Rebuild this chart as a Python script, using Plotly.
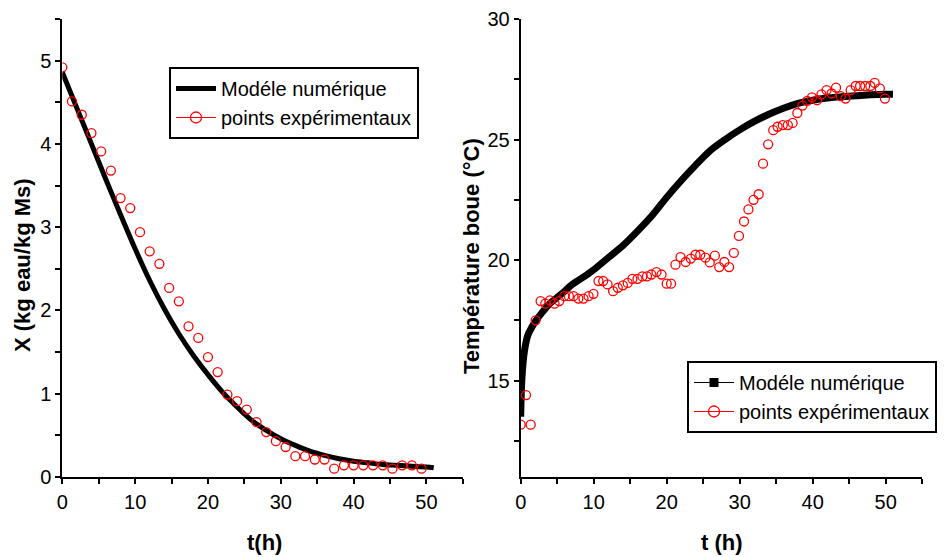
import plotly.graph_objects as go

# ---------------- data ----------------
# Left panel: moisture content X (kg eau/kg Ms) vs t (h)
model_left_t = [0, 2, 4, 6, 8, 10, 12, 14, 16, 18, 20, 22, 24, 26, 28, 30, 32, 34, 36, 38, 40, 42, 44, 46, 48, 50, 51]
model_left_x = [4.86, 4.43, 4.00, 3.57, 3.15, 2.74, 2.36, 2.02, 1.72, 1.46, 1.23, 1.02, 0.84, 0.68, 0.56, 0.46,
                0.38, 0.31, 0.26, 0.22, 0.19, 0.17, 0.15, 0.14, 0.13, 0.12, 0.11]

exp_left_t = [0, 1.33, 2.67, 4.0, 5.33, 6.67, 8.0, 9.33, 10.67, 12.0, 13.33, 14.67, 16.0, 17.33, 18.67, 20.0,
              21.33, 22.67, 24.0, 25.33, 26.67, 28.0, 29.33, 30.67, 32.0, 33.33, 34.67, 36.0, 37.33, 38.67,
              40.0, 41.33, 42.67, 44.0, 45.33, 46.67, 48.0, 49.33]
exp_left_x = [4.92, 4.51, 4.35, 4.13, 3.91, 3.68, 3.35, 3.23, 2.94, 2.71, 2.56, 2.27, 2.11, 1.81, 1.67, 1.44,
              1.26, 0.99, 0.91, 0.81, 0.66, 0.54, 0.43, 0.36, 0.25, 0.25, 0.21, 0.21, 0.10, 0.14,
              0.14, 0.14, 0.14, 0.14, 0.10, 0.14, 0.14, 0.10]

# Right panel: sludge temperature (°C) vs t (h)
model_right_t = [0, 0.15, 0.5, 1, 1.5, 2, 3, 4, 5, 6, 7, 8, 9, 10, 12, 14, 16, 18, 20, 22, 24, 26, 28, 30,
                 32, 34, 36, 38, 40, 42, 44, 46, 48, 50, 51]
model_right_T = [13.5, 15.0, 16.2, 16.9, 17.2, 17.45, 17.85, 18.2, 18.45, 18.7, 18.98, 19.18, 19.38, 19.6,
                 20.1, 20.6, 21.2, 21.85, 22.6, 23.3, 23.95, 24.55, 25.0, 25.4, 25.75, 26.05, 26.3, 26.5,
                 26.63, 26.72, 26.78, 26.82, 26.86, 26.88, 26.88]

exp_right_t = [0, 0.73, 1.37, 2.05, 2.73, 3.37, 4.0, 4.64, 5.28, 5.97, 6.6, 7.24, 7.9, 8.6, 9.3, 9.97,
               10.66, 11.3, 11.9, 12.66, 13.3, 14.0, 14.66, 15.3, 16.0, 16.67, 17.3, 17.9, 18.6, 19.3, 20.0, 20.6,
               21.2, 21.9, 22.6, 23.3, 23.95, 24.6, 25.3, 25.9, 26.6, 27.2, 27.9, 28.55, 29.2, 29.9,
               30.6, 31.2, 31.9, 32.6, 33.2, 33.9, 34.6, 35.2, 35.9, 36.6, 37.25, 37.9, 38.6, 39.25, 39.9,
               40.6, 41.2, 41.9, 42.6, 43.2, 43.85, 44.5, 45.2, 45.9, 46.5, 47.2, 47.9, 48.5, 49.2, 49.9]
exp_right_T = [13.17, 14.4, 13.17, 17.5, 18.3, 18.19, 18.33, 18.19, 18.3, 18.5, 18.5, 18.5, 18.4, 18.4, 18.5, 18.6,
               19.13, 19.13, 18.99, 18.71, 18.85, 18.95, 19.05, 19.22, 19.22, 19.32, 19.32, 19.4, 19.5, 19.4, 19.02, 19.02,
               19.81, 20.12, 19.92, 20.06, 20.22, 20.22, 20.1, 19.9, 20.18, 19.71, 19.92, 19.71, 20.3, 21.0,
               21.6, 22.1, 22.5, 22.73, 24.0, 24.8, 25.39, 25.53, 25.6, 25.6, 25.69, 26.1, 26.41, 26.6, 26.75,
               26.63, 26.87, 27.05, 26.91, 27.15, 26.8, 26.7, 27.05, 27.22, 27.22, 27.22, 27.22, 27.35, 27.12, 26.7]

name_model = "Modéle numérique"
name_exp = "points expérimentaux"

W, H = 944, 557
FONT = "Liberation Sans, Arial, sans-serif"
RED = "#ff0000"

def px_x(p):
    return p / W

def px_y(p):
    return 1 - p / H

fig = go.Figure()

# ----- left panel -----
fig.add_trace(go.Scatter(x=model_left_t, y=model_left_x, mode="lines", name=name_model,
                         line=dict(color="black", width=5, shape="spline", smoothing=0.8),
                         xaxis="x", yaxis="y", legend="legend"))
fig.add_trace(go.Scatter(x=exp_left_t, y=exp_left_x, mode="markers", showlegend=False,
                         marker=dict(symbol="circle-open", size=9, color=RED, line=dict(width=1.3, color=RED)),
                         xaxis="x", yaxis="y"))
fig.add_trace(go.Scatter(x=[None], y=[None], mode="lines+markers", name=name_exp,
                         line=dict(color=RED, width=1.2),
                         marker=dict(symbol="circle-open", size=11, color=RED, line=dict(width=1.3, color=RED)),
                         xaxis="x", yaxis="y", legend="legend"))

# ----- right panel -----
fig.add_trace(go.Scatter(x=model_right_t, y=model_right_T, mode="lines", showlegend=False,
                         line=dict(color="black", width=7, shape="spline", smoothing=0.8),
                         xaxis="x2", yaxis="y2"))
fig.add_trace(go.Scatter(x=exp_right_t, y=exp_right_T, mode="markers", showlegend=False,
                         marker=dict(symbol="circle-open", size=9, color=RED, line=dict(width=1.3, color=RED)),
                         xaxis="x2", yaxis="y2"))
fig.add_trace(go.Scatter(x=[None], y=[None], mode="lines+markers", name=name_model,
                         line=dict(color="black", width=1.2),
                         marker=dict(symbol="square", size=9, color="black"),
                         xaxis="x2", yaxis="y2", legend="legend2"))
fig.add_trace(go.Scatter(x=[None], y=[None], mode="lines+markers", name=name_exp,
                         line=dict(color=RED, width=1.2),
                         marker=dict(symbol="circle-open", size=11, color=RED, line=dict(width=1.3, color=RED)),
                         xaxis="x2", yaxis="y2", legend="legend2"))

tickfont = dict(family=FONT, size=20, color="black")

def xaxis_common(domain, anchor):
    return dict(domain=domain, anchor=anchor, range=[0, 55.02], dtick=10, tick0=0, automargin=False,
                showline=True, linecolor="black", linewidth=2, ticks="outside", ticklen=5,
                tickwidth=1.5, tickcolor="black", showgrid=False, zeroline=False,
                tickfont=tickfont, ticklabelstandoff=1,
                minor=dict(dtick=5, tick0=0, ticks="outside", ticklen=5, tickwidth=1.5, tickcolor="black", showgrid=False))

def yaxis_common(domain, anchor, rng, dtick, mdtick, tick0):
    return dict(domain=domain, anchor=anchor, range=rng, dtick=dtick, tick0=tick0, automargin=False,
                showline=True, linecolor="black", linewidth=2, ticks="outside", ticklen=5,
                tickwidth=1.5, tickcolor="black", showgrid=False, zeroline=False,
                tickfont=tickfont, ticklabelstandoff=0,
                minor=dict(dtick=mdtick, tick0=tick0, ticks="outside", ticklen=5, tickwidth=1.5, tickcolor="black", showgrid=False))

ydom = [px_y(477), px_y(19)]

legend_font = dict(family=FONT, size=20, color="black")
title_font = dict(family=FONT, size=22, color="black")

fig.update_layout(
    width=W, height=H,
    margin=dict(l=0, r=0, t=0, b=0, autoexpand=False),
    paper_bgcolor="white", plot_bgcolor="white",
    xaxis=xaxis_common([px_x(62.3), px_x(463)], "y"),
    yaxis=yaxis_common(ydom, "x", [0, 5.5], 1, 0.5, 0),
    xaxis2=xaxis_common([px_x(520.7), px_x(922.3)], "y2"),
    yaxis2=yaxis_common(ydom, "x2", [11, 30], 5, 2.5, 15),
    legend=dict(x=px_x(169), y=px_y(67), xanchor="left", yanchor="top",
                bordercolor="black", borderwidth=2, bgcolor="white", font=legend_font,
                tracegroupgap=0, itemwidth=40),
    legend2=dict(x=px_x(687), y=px_y(361), xanchor="left", yanchor="top",
                 bordercolor="black", borderwidth=2, bgcolor="white", font=legend_font,
                 tracegroupgap=0, itemwidth=40),
    annotations=[
        dict(text="<b>X (kg eau/kg Ms)</b>", x=px_x(22), y=px_y(265), xref="paper", yref="paper",
             xanchor="center", yanchor="middle", textangle=-90, showarrow=False, font=title_font),
        dict(text="<b>t(h)</b>", x=px_x(264), y=px_y(542), xref="paper", yref="paper",
             xanchor="center", yanchor="middle", showarrow=False, font=title_font),
        dict(text="<b>Température boue (°C)</b>", x=px_x(471), y=px_y(256), xref="paper", yref="paper",
             xanchor="center", yanchor="middle", textangle=-90, showarrow=False, font=title_font),
        dict(text="<b>t (h)</b>", x=px_x(722), y=px_y(542), xref="paper", yref="paper",
             xanchor="center", yanchor="middle", showarrow=False, font=title_font),
    ],
)

fig.write_html("out.html")
